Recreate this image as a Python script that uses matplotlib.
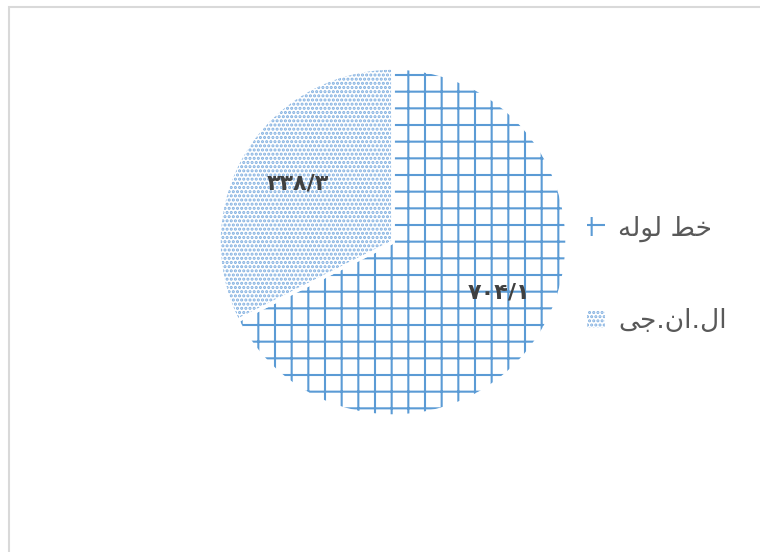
import matplotlib
matplotlib.use('Agg')
import matplotlib.pyplot as plt
from matplotlib.patches import Rectangle

# data
labels = ['خط لوله', 'ال.ان.جی']
values = [704.1, 338.3]
hatches = ['+', '....']
hatch_colors = ['#5b9bd5', '#80afe0']

plt.rcParams['font.family'] = ['DejaVu Sans']
plt.rcParams['hatch.linewidth'] = 1.5

# matplotlib has no arabic shaping, so pick presentation forms by hand
# (iso, fin, ini, med); right-joining letters have no ini/med forms
forms = {
    'ا': ('\uFE8D', '\uFE8E', None, None),
    'و': ('\uFEED', '\uFEEE', None, None),
    'ج': ('\uFE9D', '\uFE9E', '\uFE9F', '\uFEA0'),
    'خ': ('\uFEA5', '\uFEA6', '\uFEA7', '\uFEA8'),
    'ط': ('\uFEC1', '\uFEC2', '\uFEC3', '\uFEC4'),
    'ل': ('\uFEDD', '\uFEDE', '\uFEDF', '\uFEE0'),
    'ن': ('\uFEE5', '\uFEE6', '\uFEE7', '\uFEE8'),
    'ه': ('\uFEE9', '\uFEEA', '\uFEEB', '\uFEEC'),
    'ی': ('\uFBFC', '\uFBFD', '\uFBFE', '\uFBFF'),
}


def shape(s):
    out = []
    for i, ch in enumerate(s):
        if ch not in forms:
            out.append(ch)
            continue
        prev = s[i - 1] if i > 0 else ''
        nxt = s[i + 1] if i + 1 < len(s) else ''
        j_prev = prev in forms and forms[prev][2] is not None
        j_next = forms[ch][2] is not None and nxt in forms
        if j_prev and j_next:
            out.append(forms[ch][3])
        elif j_prev:
            out.append(forms[ch][1])
        elif j_next:
            out.append(forms[ch][2])
        else:
            out.append(forms[ch][0])
    return ''.join(out)[::-1]


def fa_num(v):
    s = f'{v:.1f}'.replace('.', '/')
    return s.translate(str.maketrans('0123456789', '۰۱۲۳۴۵۶۷۸۹'))


total = sum(values)

fig = plt.figure(figsize=(7.6, 5.52), dpi=100)
fig.patches.append(Rectangle((9 / 760, -0.1), 1.2, 1.1 - 7 / 552, transform=fig.transFigure,
                             fill=False, edgecolor='#d9d9d9', lw=1.5))

cx, cy, r = 393, 242, 174
ax = fig.add_axes([(cx - r) / 760, (552 - cy - r) / 552, 2 * r / 760, 2 * r / 552])
wedges, texts, autotexts = ax.pie(values, startangle=90, counterclock=False,
                                  autopct=lambda p: fa_num(p * total / 100), pctdistance=0.64,
                                  wedgeprops=dict(facecolor='white', linewidth=0),
                                  textprops=dict(color='#404040', fontsize=16, fontweight='bold'))
for w, h, c in zip(wedges, hatches, hatch_colors):
    w.set_hatch(h)
    w.set_edgecolor(c)
    w.set_linewidth(0)
# white separators between the slices, drawn under the labels
ax.pie(values, startangle=90, counterclock=False,
       wedgeprops=dict(fill=False, edgecolor='white', linewidth=2.5))
for t in autotexts:
    t.set_zorder(5)
autotexts[0].set_position((0.61, -0.29))
ax.set_xlim(-1, 1)
ax.set_ylim(-1, 1)

fig.legend(wedges, [shape(l) for l in labels], loc='center left',
           bbox_to_anchor=(563 / 760, 1 - 275 / 552), frameon=False,
           fontsize=19, labelcolor='#595959', handlelength=0.7, handleheight=0.7,
           handletextpad=0.5, labelspacing=2.5)

fig.savefig('out.png', dpi=100)
